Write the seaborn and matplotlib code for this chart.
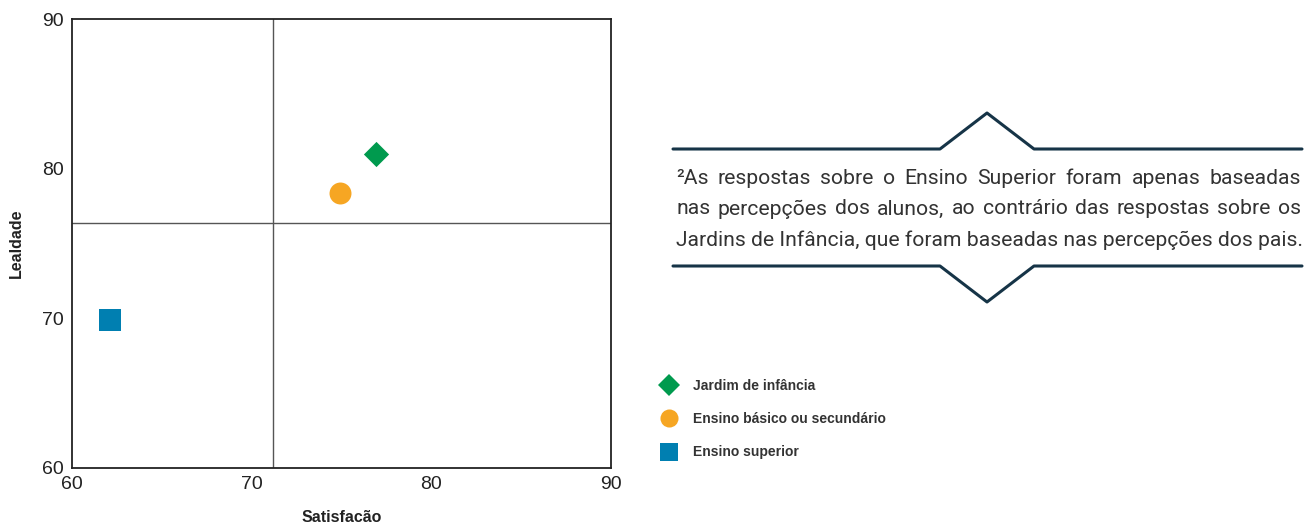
import pandas as pd
import matplotlib
matplotlib.use("Agg")
import matplotlib.pyplot as plt
import seaborn as sns
from matplotlib.lines import Line2D

# data
grupos = ["Jardim de infância", "Ensino básico ou secundário", "Ensino superior"]
satisfacao = [76.9, 74.9, 62.1]
lealdade = [81.0, 78.4, 69.9]
cores = ["#009A4E", "#F6A623", "#007FB1"]
marcadores = ["D", "o", "s"]
tamanhos = [165, 250, 270]

ref_satisfacao = 71.2
ref_lealdade = 76.4
x_ticks = [60, 70, 80, 90]
y_ticks = [60, 70, 80, 90]

nota_linhas = [
    "²As respostas sobre o Ensino Superior foram apenas baseadas",
    "nas percepções dos alunos, ao contrário das respostas sobre os",
    "Jardins de Infância, que foram baseadas nas percepções dos pais.",
]

df = pd.DataFrame({"grupo": grupos, "Satisfacão": satisfacao, "Lealdade": lealdade})

sns.set_theme(style="white")
plt.rcParams["font.family"] = ["Liberation Sans", "DejaVu Sans"]

W, H = 1304, 523
fig = plt.figure(figsize=(W / 100, H / 100), dpi=100)
ax = fig.add_axes([72 / W, 1 - 468 / H, (611 - 72) / W, (468 - 19) / H])

ax.axvline(ref_satisfacao, color="#555555", lw=1.0, zorder=1)
ax.axhline(ref_lealdade, color="#555555", lw=1.0, zorder=1)

for g, c, m, s in zip(grupos, cores, marcadores, tamanhos):
    sns.scatterplot(data=df[df["grupo"] == g], x="Satisfacão", y="Lealdade",
                    color=c, marker=m, s=s, linewidth=0, ax=ax, zorder=3)

ax.set_xlim(60, 90)
ax.set_ylim(60, 90)
ax.set_xticks(x_ticks)
ax.set_yticks(y_ticks)
ax.tick_params(axis="both", length=0, labelsize=14, labelcolor="#222222")
ax.tick_params(axis="x", pad=6)
ax.tick_params(axis="y", pad=6)
for sp in ax.spines.values():
    sp.set_color("#222222")
    sp.set_linewidth(1.3)
ax.set_xlabel("Satisfacão", fontsize=11.5, fontweight="bold", color="#222222", va="center")
ax.set_ylabel("Lealdade", fontsize=11.5, fontweight="bold", color="#222222", va="center")
ax.xaxis.set_label_coords(0.5, -(517 - 468) / 449)
ax.yaxis.set_label_coords(-(72 - 16) / 539, 0.5)

# legend
handles = [Line2D([], [], ls="", marker=m, color=c, markersize=ms, markeredgewidth=0)
           for c, m, ms in zip(cores, marcadores, [11, 13, 12.5])]
leg = fig.legend(handles, grupos, loc="upper left", bbox_to_anchor=(643 / W, 1 - 366 / H),
                 frameon=False, handletextpad=0.7, labelspacing=1.4,
                 prop={"weight": "bold", "size": 10})
for t in leg.get_texts():
    t.set_color("#333333")

# decorative brackets around the note
navy = "#163447"
fx = lambda px: px / W
fy = lambda py: 1 - py / H
fig.add_artist(Line2D([fx(673), fx(940), fx(987), fx(1034), fx(1302)],
                      [fy(149), fy(149), fy(113), fy(149), fy(149)],
                      color=navy, lw=2.2, transform=fig.transFigure))
fig.add_artist(Line2D([fx(673), fx(940), fx(987), fx(1034), fx(1302)],
                      [fy(266), fy(266), fy(302), fy(266), fy(266)],
                      color=navy, lw=2.2, transform=fig.transFigure))

# justified note text
renderer = fig.canvas.get_renderer()
nota_font = dict(family=["Roboto", "DejaVu Sans"], color="#333333")
probe = fig.text(0, 0, nota_linhas[2], fontsize=12, **nota_font)
largura = probe.get_window_extent(renderer).width
probe.remove()
fsize = 12 * 624 / largura

x0, x1 = 676, 1301
ys = [178, 209, 240]
for i, (linha, yy) in enumerate(zip(nota_linhas, ys)):
    if i == len(nota_linhas) - 1:
        fig.text(fx(x0), fy(yy), linha, fontsize=fsize, va="center", **nota_font)
        continue
    palavras = linha.split(" ")
    larguras = []
    for p in palavras:
        t = fig.text(0, 0, p, fontsize=fsize, **nota_font)
        larguras.append(t.get_window_extent(renderer).width)
        t.remove()
    gap = (x1 - x0 - sum(larguras)) / (len(palavras) - 1)
    x = x0
    for p, w in zip(palavras, larguras):
        fig.text(fx(x), fy(yy), p, fontsize=fsize, va="center", **nota_font)
        x += w + gap

fig.savefig("out.png", dpi=100)
plt.close(fig)
